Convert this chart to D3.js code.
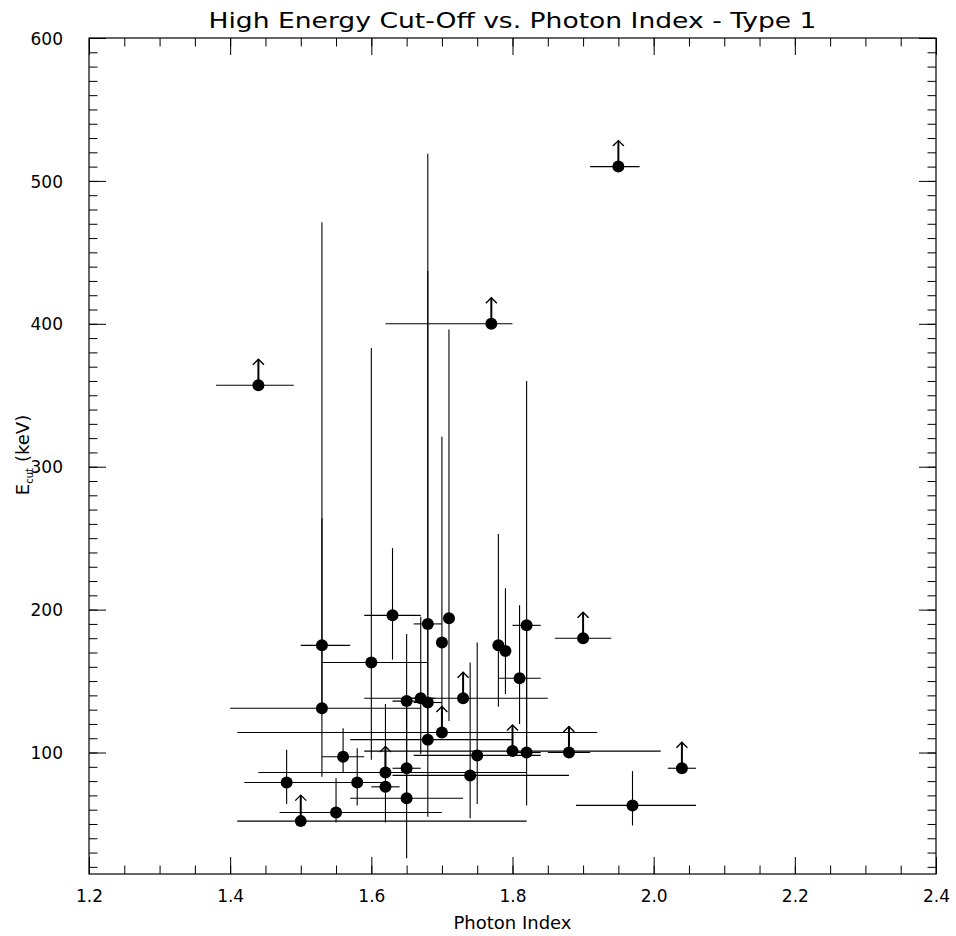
<!DOCTYPE html>
<html>
<head>
<meta charset="utf-8">
<script src="https://cdn.jsdelivr.net/npm/d3@7"></script>
<style>
  body { margin: 0; background: #fff; }
  svg { display: block; }
  text { font-family: "DejaVu Sans", "Liberation Sans", sans-serif; fill: #000; }
</style>
</head>
<body>
<div id="chart"></div>
<script>
// photon index, cut-off energy and the error bar ends
var photonIndex = [1.44, 1.95, 1.77, 1.53, 1.53, 1.60, 1.63, 1.68, 1.71, 1.70,
                   1.65, 1.67, 1.68, 1.73, 1.70, 1.68, 1.56, 1.62, 1.65, 1.48,
                   1.58, 1.62, 1.65, 1.55, 1.50, 1.82, 1.78, 1.79, 1.81, 1.90,
                   1.80, 1.82, 1.88, 1.75, 1.74, 1.97, 2.04];
var ecut = [357, 510, 400, 175, 131, 163, 196, 190, 194, 177,
            136, 138, 135, 138, 114, 109, 97, 86, 89, 79,
            79, 76, 68, 58, 52, 189, 175, 171, 152, 180,
            101, 100, 100, 98, 84, 63, 89];
var gammaLo = [1.38, 1.91, 1.62, 1.50, 1.40, 1.53, 1.59, 1.66, 1.71, 1.70,
               1.63, 1.65, 1.66, 1.59, 1.41, 1.57, 1.53, 1.44, 1.63, 1.42,
               1.55, 1.60, 1.57, 1.47, 1.41, 1.80, 1.78, 1.79, 1.78, 1.86,
               1.59, 1.80, 1.85, 1.66, 1.63, 1.89, 2.02];
var gammaHi = [1.49, 1.98, 1.80, 1.57, 1.67, 1.68, 1.67, 1.70, 1.71, 1.70,
               1.68, 1.69, 1.70, 1.85, 1.92, 1.80, 1.59, 1.82, 1.67, 1.62,
               1.60, 1.64, 1.73, 1.70, 1.82, 1.84, 1.78, 1.79, 1.84, 1.94,
               2.01, 1.84, 1.91, 1.84, 1.88, 2.06, 2.06];
// null = lower limit (arrow) instead of a vertical error bar
var ecutLo = [null, null, null, 131, 83, 95, 165, 140, 122, 122,
              89, 99, 109, null, null, 55, 86, null, 68, 64,
              63, 51, 26, 51, null, 100, 132, 141, 120, null,
              null, 63, null, 64, 54, 49, null];
var ecutHi = [null, null, null, 264, 471, 383, 243, 519, 396, 321,
              183, 195, 437, null, null, 135, 117, null, 136, 102,
              103, 134, 89, 82, null, 360, 253, 215, 203, null,
              null, 189, null, 177, 163, 87, null];

var xTicks = [1.2, 1.4, 1.6, 1.8, 2.0, 2.2, 2.4];
var yTicks = [100, 200, 300, 400, 500, 600];

var W = 956, H = 936;
var plotL = 89, plotR = 936, plotT = 38, plotB = 874;
var majorLen = 17, minorLen = 8.5;

var x = d3.scaleLinear().domain([1.2, 2.4]).range([plotL, plotR]);
var y = d3.scaleLinear().domain([15, 600]).range([plotB, plotT]);

var svg = d3.select("#chart").append("svg")
  .attr("width", W)
  .attr("height", H);

var pts = photonIndex.map(function(g, i) {
  return {g: g, e: ecut[i], glo: gammaLo[i], ghi: gammaHi[i],
          elo: ecutLo[i], ehi: ecutHi[i], lim: ecutLo[i] === null};
});

// error bars
var bars = svg.append("g").attr("stroke", "#000").attr("stroke-width", 1.1).attr("fill", "none");
bars.selectAll("line.xerr")
  .data(pts.filter(function(d) { return d.ghi > d.glo; }))
  .enter().append("line")
  .attr("class", "xerr")
  .attr("x1", function(d) { return x(d.glo); })
  .attr("x2", function(d) { return x(d.ghi); })
  .attr("y1", function(d) { return y(d.e); })
  .attr("y2", function(d) { return y(d.e); });
bars.selectAll("line.yerr")
  .data(pts.filter(function(d) { return !d.lim; }))
  .enter().append("line")
  .attr("class", "yerr")
  .attr("x1", function(d) { return x(d.g); })
  .attr("x2", function(d) { return x(d.g); })
  .attr("y1", function(d) { return y(d.elo); })
  .attr("y2", function(d) { return y(d.ehi); });

// lower-limit arrows
var arrows = svg.append("g").attr("stroke", "#000").attr("fill", "none");
var lims = pts.filter(function(d) { return d.lim; });
arrows.selectAll("line")
  .data(lims)
  .enter().append("line")
  .attr("stroke-width", 2)
  .attr("x1", function(d) { return x(d.g); })
  .attr("x2", function(d) { return x(d.g); })
  .attr("y1", function(d) { return y(d.e); })
  .attr("y2", function(d) { return y(d.e) - 26; });
arrows.selectAll("path")
  .data(lims)
  .enter().append("path")
  .attr("stroke-width", 1.4)
  .attr("d", function(d) {
    var px = x(d.g), py = y(d.e) - 26;
    return "M" + (px - 5.5) + "," + (py + 5.5) + "L" + px + "," + py + "L" + (px + 5.5) + "," + (py + 5.5);
  });

// markers
svg.append("g").selectAll("circle")
  .data(pts)
  .enter().append("circle")
  .attr("cx", function(d) { return x(d.g); })
  .attr("cy", function(d) { return y(d.e); })
  .attr("r", 6)
  .attr("fill", "#000");

// frame with inward ticks on all four sides
var xMinor = d3.range(1.2, 2.4001, 0.05);
var yMinor = d3.range(20, 600.001, 10);

var bx = svg.append("g").attr("transform", "translate(0," + plotB + ")")
  .call(d3.axisBottom(x).tickValues(xTicks).tickSize(-majorLen).tickSizeOuter(0).tickPadding(majorLen + 11).tickFormat(d3.format(".1f")));
var bxm = svg.append("g").attr("transform", "translate(0," + plotB + ")")
  .call(d3.axisBottom(x).tickValues(xMinor).tickSize(-minorLen).tickSizeOuter(0).tickFormat(""));
var tx = svg.append("g").attr("transform", "translate(0," + plotT + ")")
  .call(d3.axisTop(x).tickValues(xTicks).tickSize(-majorLen).tickSizeOuter(0).tickFormat(""));
var txm = svg.append("g").attr("transform", "translate(0," + plotT + ")")
  .call(d3.axisTop(x).tickValues(xMinor).tickSize(-minorLen).tickSizeOuter(0).tickFormat(""));
var ly = svg.append("g").attr("transform", "translate(" + plotL + ",0)")
  .call(d3.axisLeft(y).tickValues(yTicks).tickSize(-majorLen).tickSizeOuter(0).tickPadding(majorLen + 9));
var lym = svg.append("g").attr("transform", "translate(" + plotL + ",0)")
  .call(d3.axisLeft(y).tickValues(yMinor).tickSize(-minorLen).tickSizeOuter(0).tickFormat(""));
var ry = svg.append("g").attr("transform", "translate(" + plotR + ",0)")
  .call(d3.axisRight(y).tickValues(yTicks).tickSize(-majorLen).tickSizeOuter(0).tickFormat(""));
var rym = svg.append("g").attr("transform", "translate(" + plotR + ",0)")
  .call(d3.axisRight(y).tickValues(yMinor).tickSize(-minorLen).tickSizeOuter(0).tickFormat(""));

[bx, bxm, tx, txm, ly, lym, ry, rym].forEach(function(a) {
  a.attr("font-size", null).attr("font-family", null);
  a.selectAll(".domain").remove();
  a.selectAll("line").attr("stroke", "#000").attr("stroke-width", 1);
  a.selectAll("text").attr("font-size", 17).attr("fill", "#000");
});
bx.selectAll("text").attr("dy", "0");
ly.selectAll("text").attr("dy", "0.36em");

svg.append("rect")
  .attr("x", plotL).attr("y", plotT)
  .attr("width", plotR - plotL).attr("height", plotB - plotT)
  .attr("fill", "none").attr("stroke", "#000").attr("stroke-width", 1.2);

// titles
svg.append("text")
  .attr("x", (plotL + plotR) / 2).attr("y", 28)
  .attr("text-anchor", "middle")
  .attr("textLength", 608).attr("lengthAdjust", "spacingAndGlyphs")
  .attr("font-size", 22)
  .text("High Energy Cut-Off vs. Photon Index - Type 1");

svg.append("text")
  .attr("x", (plotL + plotR) / 2).attr("y", 929)
  .attr("text-anchor", "middle")
  .attr("font-size", 18)
  .text("Photon Index");

var yl = svg.append("text")
  .attr("transform", "translate(29,455) rotate(-90)")
  .attr("text-anchor", "middle")
  .attr("font-size", 18);
yl.append("tspan").text("E");
yl.append("tspan").attr("dy", 4).attr("font-size", 10).text("cut");
yl.append("tspan").attr("dy", -4).attr("dx", 6).text("(keV)");
</script>
</body>
</html>
